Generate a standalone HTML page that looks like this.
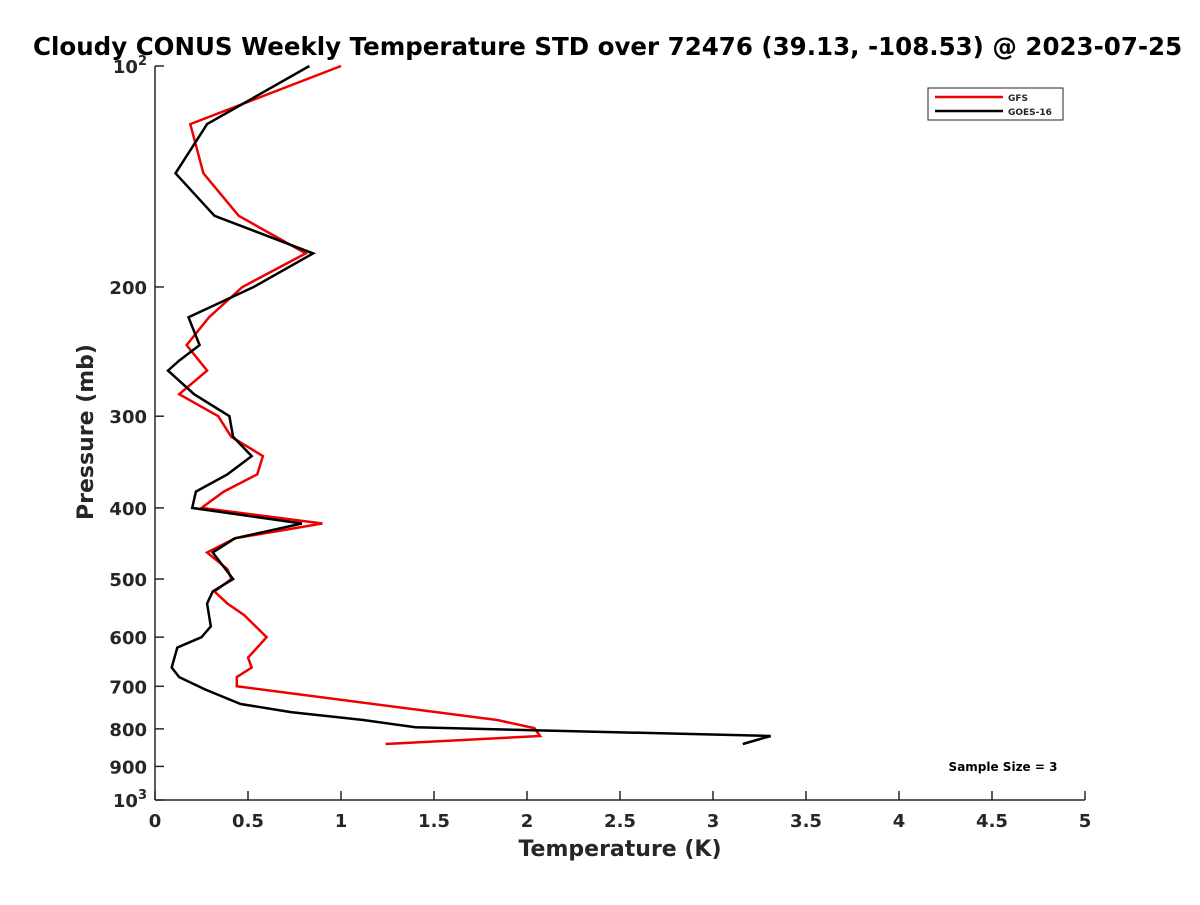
<!DOCTYPE html>
<html><head><meta charset="utf-8"><style>
body{margin:0;background:#fff;width:1200px;height:900px;overflow:hidden;font-family:"Liberation Sans",sans-serif;}
svg text{font-family:"DejaVu Sans","Liberation Sans",sans-serif;font-weight:bold;fill:#262626;}
</style></head><body>
<svg width="1200" height="900">
<text x="33" y="55" font-size="24.5" style="fill:#000">Cloudy CONUS Weekly Temperature STD over 72476 (39.13, -108.53) @ 2023-07-25</text>
<g id="axes"></g>
<g id="lines"></g>
<g>
<rect x="928" y="88" width="135" height="32" fill="#fff" stroke="#262626" stroke-width="1"/>
<line x1="935" y1="97" x2="1003" y2="97" stroke="#e00" stroke-width="2.5"/>
<text x="1008" y="101" font-size="9">GFS</text>
<line x1="935" y1="111" x2="1003" y2="111" stroke="#000" stroke-width="2.5"/>
<text x="1008" y="115" font-size="9">GOES-16</text>
</g>
<text x="1003" y="771" font-size="12" text-anchor="middle" style="fill:#000">Sample Size = 3</text>
<text x="620" y="856" font-size="22" text-anchor="middle">Temperature (K)</text>
<text x="0" y="0" font-size="22" text-anchor="middle" transform="translate(93,432) rotate(-90)">Pressure (mb)</text>
</svg>
<script>
const xTicks=[0,0.5,1,1.5,2,2.5,3,3.5,4,4.5,5];
const xTickLabels=["0","0.5","1","1.5","2","2.5","3","3.5","4","4.5","5"];
const yTicks=[100,200,300,400,500,600,700,800,900,1000];
const yTickLabels=["10²","200","300","400","500","600","700","800","900","10³"];
const gfsP=[100,120,140,160,180,200,220,240,260,280,300,320,340,360,380,400,420,440,460,485,500,520,540,560,600,640,660,680,700,778,798,818,839];
const gfsT=[1.0,0.19,0.26,0.45,0.81,0.47,0.29,0.17,0.28,0.13,0.34,0.41,0.58,0.55,0.37,0.25,0.9,0.43,0.28,0.39,0.41,0.32,0.39,0.48,0.6,0.5,0.52,0.44,0.44,1.84,2.04,2.07,1.24];
const goesP=[100,120,140,160,180,200,220,240,252,260,280,300,320,340,360,380,400,420,440,460,500,520,540,580,600,620,660,680,707,740,759,778,796,818,839];
const goesT=[0.83,0.28,0.11,0.32,0.85,0.53,0.18,0.24,0.13,0.07,0.21,0.4,0.42,0.52,0.39,0.22,0.2,0.79,0.43,0.31,0.42,0.31,0.28,0.3,0.25,0.12,0.09,0.13,0.27,0.46,0.73,1.12,1.4,3.31,3.16];
const X0=155,X1=1085,Y0=66,Y1=800;
const xs=v=>X0+(v/5)*(X1-X0);
const ys=p=>Y0+Math.log10(p/100)*(Y1-Y0);
const NS="http://www.w3.org/2000/svg";
function mk(tag,attrs,parent){const e=document.createElementNS(NS,tag);for(const k in attrs)e.setAttribute(k,attrs[k]);parent.appendChild(e);return e;}
const ax=document.getElementById('axes');
const yl=mk('line',{x1:X0,y1:Y0,x2:X0,y2:Y1,stroke:'#262626','stroke-width':1.5},ax);


const xl=mk('line',{x1:X0,y1:Y1,x2:X1,y2:Y1,stroke:'#262626','stroke-width':1.5},ax);


xTicks.forEach((v,i)=>{
 mk('line',{x1:xs(v),y1:Y1,x2:xs(v),y2:Y1-9,stroke:'#262626','stroke-width':1.5},ax);
 const t=mk('text',{x:xs(v),y:Y1+27,'font-size':18,'text-anchor':'middle'},ax);
 t.textContent=xTickLabels[i];
 
 
});
yTicks.forEach((p,i)=>{
 mk('line',{x1:X0,y1:ys(p),x2:X0+9,y2:ys(p),stroke:'#262626','stroke-width':1.5},ax);
 const lab=yTickLabels[i];
 const t=mk('text',{x:X0-8,y:ys(p)+7,'font-size':18,'text-anchor':'end'},ax);
 if(lab.length===3&&(lab[2]==='²'||lab[2]==='³')){
  t.textContent='10';
  const s=mk('tspan',{dy:-8,'font-size':13},t);s.textContent=lab[2]==='²'?'2':'3';
 } else t.textContent=lab;
 
 
});
const lg=document.getElementById('lines');
function series(P,T,color,name){
 const pts=P.map((p,i)=>xs(T[i]).toFixed(1)+','+ys(p).toFixed(1)).join(' ');
 const l=mk('polyline',{points:pts,fill:'none',stroke:color,'stroke-width':2.5,'stroke-linejoin':'miter'},lg);
 
 
}
series(gfsP,gfsT,'#e00','gfs-line');
series(goesP,goesT,'#000','goes16-line');
</script>
</body></html>
